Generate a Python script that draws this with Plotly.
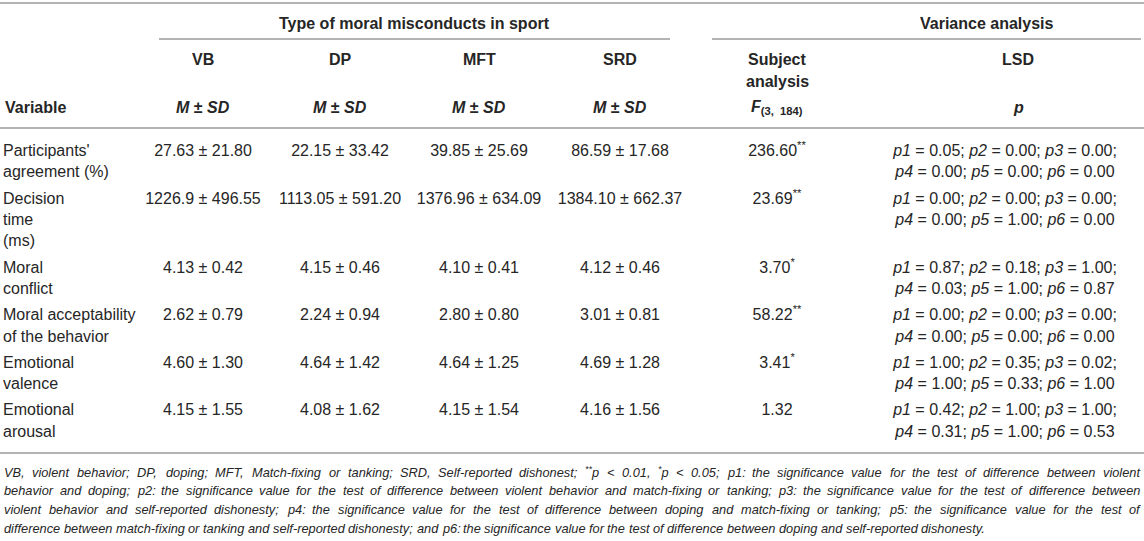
import plotly.graph_objects as go

# table content
variables = [
    ["Participants'", "agreement (%)"],
    ["Decision", "time", "(ms)"],
    ["Moral", "conflict"],
    ["Moral acceptability", "of the behavior"],
    ["Emotional", "valence"],
    ["Emotional", "arousal"],
]
misconducts = ["VB", "DP", "MFT", "SRD"]
vb = ["27.63 ± 21.80", "1226.9 ± 496.55", "4.13 ± 0.42", "2.62 ± 0.79", "4.60 ± 1.30", "4.15 ± 1.55"]
dp = ["22.15 ± 33.42", "1113.05 ± 591.20", "4.15 ± 0.46", "2.24 ± 0.94", "4.64 ± 1.42", "4.08 ± 1.62"]
mft = ["39.85 ± 25.69", "1376.96 ± 634.09", "4.10 ± 0.41", "2.80 ± 0.80", "4.64 ± 1.25", "4.15 ± 1.54"]
srd = ["86.59 ± 17.68", "1384.10 ± 662.37", "4.12 ± 0.46", "3.01 ± 0.81", "4.69 ± 1.28", "4.16 ± 1.56"]
f_values = ["236.60", "23.69", "3.70", "58.22", "3.41", "1.32"]
f_sig = ["**", "**", "*", "**", "*", ""]
p_values = [
    ["0.05", "0.00", "0.00", "0.00", "0.00", "0.00"],
    ["0.00", "0.00", "0.00", "0.00", "1.00", "0.00"],
    ["0.87", "0.18", "1.00", "0.03", "1.00", "0.87"],
    ["0.00", "0.00", "0.00", "0.00", "0.00", "0.00"],
    ["1.00", "0.35", "0.02", "1.00", "0.33", "1.00"],
    ["0.42", "1.00", "1.00", "0.31", "1.00", "0.53"],
]
footnote = [
    "VB, violent behavior; DP, doping; MFT, Match-fixing or tanking; SRD, Self-reported dishonest; **p < 0.01, *p < 0.05; p1: the significance value for the test of difference between violent",
    "behavior and doping; p2: the significance value for the test of difference between violent behavior and match-fixing or tanking; p3: the significance value for the test of difference between",
    "violent behavior and self-reported dishonesty; p4: the significance value for the test of difference between doping and match-fixing or tanking; p5: the significance value for the test of",
    "difference between match-fixing or tanking and self-reported dishonesty; and p6: the significance value for the test of difference between doping and self-reported dishonesty.",
]

W, H = 1144, 541
TXT = "#262626"
RULE = "#b3b3b3"
FONT = "Liberation Sans, Arial, sans-serif"
FS = 16
FN_FS = 12.8

col_x = [203, 340, 479, 620]
f_x = 777
lsd_x = 1018
p_x = 1005
line_h = 21.4
row_gap = 4.8

# Arial / Liberation Sans advance widths (1/1000 em), used to justify the footnote
ADV = {" ": 278, "*": 389, ",": 278, "-": 333, ".": 278, ":": 278, ";": 278, "<": 584}
ADV.update({d: 556 for d in "0123456789"})
ADV.update(dict(zip("abcdefghijklmnopqrstuvwxyz",
                    [556, 556, 500, 556, 556, 278, 556, 556, 222, 222, 500, 222, 833,
                     556, 556, 556, 556, 333, 500, 278, 556, 500, 722, 500, 500, 500])))
ADV.update(dict(zip("ABCDEFGHIJKLMNOPQRSTUVWXYZ",
                    [667, 667, 722, 722, 667, 611, 778, 722, 278, 500, 667, 556, 833,
                     722, 778, 667, 778, 722, 667, 611, 722, 667, 944, 667, 667, 611])))


def word_width(w, size):
    tot = 0
    for ch in w:
        f = 0.7 if ch == "*" else 1.0
        tot += ADV.get(ch, 556) * f
    return tot * size / 1000.0


def word_html(w):
    # leading asterisks are printed as superscripts
    n = len(w) - len(w.lstrip("*"))
    if n:
        return "<i><sup>%s</sup>%s</i>" % (w[:n], w[n:])
    return "<i>%s</i>" % w


# first-line y of each row
row_y = []
y = 152
for v in variables:
    row_y.append(y)
    y += len(v) * line_h + row_gap

fig = go.Figure()

# variable labels
lx, ly, lt = [], [], []
for i, v in enumerate(variables):
    for j, t in enumerate(v):
        lx.append(3)
        ly.append(row_y[i] + j * line_h)
        lt.append(t)
fig.add_trace(go.Scatter(x=lx, y=ly, text=lt, mode="text", textposition="middle right",
                         textfont=dict(family=FONT, size=FS, color=TXT)))

# means +- sd
for cx, vals in zip(col_x, [vb, dp, mft, srd]):
    fig.add_trace(go.Scatter(x=[cx] * len(vals), y=row_y, text=vals, mode="text",
                             textposition="middle center",
                             textfont=dict(family=FONT, size=FS, color=TXT)))

# F values
f_text = [v + ("<sup>%s</sup>" % s if s else "") for v, s in zip(f_values, f_sig)]
fig.add_trace(go.Scatter(x=[f_x] * len(f_text), y=row_y, text=f_text, mode="text",
                         textposition="middle center",
                         textfont=dict(family=FONT, size=FS, color=TXT)))

# LSD p values
px_, py_, pt_ = [], [], []
for i, ps in enumerate(p_values):
    l1 = "; ".join("<i>p%d</i> = %s" % (k + 1, ps[k]) for k in range(3)) + ";"
    l2 = "; ".join("<i>p%d</i> = %s" % (k + 1, ps[k]) for k in range(3, 6))
    px_ += [p_x, p_x]
    py_ += [row_y[i], row_y[i] + line_h]
    pt_ += [l1, l2]
fig.add_trace(go.Scatter(x=px_, y=py_, text=pt_, mode="text", textposition="middle center",
                         textfont=dict(family=FONT, size=FS, color=TXT)))


# header text
def head(x, y, t, anchor="center"):
    fig.add_annotation(x=x, y=y, text="<b>%s</b>" % t, showarrow=False, xanchor=anchor,
                       yanchor="middle", font=dict(family=FONT, size=FS, color=TXT))


head(414, 23, "Type of moral misconducts in sport")
head(987, 23, "Variance analysis")
for cx, m in zip(col_x, misconducts):
    head(cx, 59, m)
    head(cx, 107, "<i>M</i> ± <i>SD</i>")
head(f_x, 59, "Subject")
head(f_x, 81, "analysis")
head(f_x, 107, "<i>F</i><sub>(3,  184)</sub>")
head(lsd_x, 59, "LSD")
head(lsd_x, 107, "<i>p</i>")
head(3, 107, "Variable", "left")

# footnote, justified word by word (last line left aligned)
left, right = 3, 1139
for i, line in enumerate(footnote):
    words = line.split(" ")
    widths = [word_width(w, FN_FS) for w in words]
    if i < len(footnote) - 1:
        gap = (right - left - sum(widths)) / (len(words) - 1)
    else:
        gap = ADV[" "] * FN_FS / 1000.0
    xx = left
    for w, ww in zip(words, widths):
        fig.add_annotation(x=xx, y=472 + i * 18.8, text=word_html(w), showarrow=False,
                           xanchor="left", yanchor="middle", xshift=-1,
                           font=dict(family=FONT, size=FN_FS, color=TXT))
        xx += ww + gap

# rules
for x0, x1, yy in [(0, W, 3), (159, 670, 39), (712, 1141, 39), (0, W, 128), (0, W, 453)]:
    fig.add_shape(type="line", x0=x0, x1=x1, y0=yy, y1=yy, xref="x", yref="y",
                  line=dict(color=RULE, width=2))

fig.update_layout(
    width=W, height=H, margin=dict(l=0, r=0, t=0, b=0),
    paper_bgcolor="white", plot_bgcolor="white", showlegend=False, hovermode=False,
    xaxis=dict(range=[0, W], visible=False, fixedrange=True),
    yaxis=dict(range=[H, 0], visible=False, fixedrange=True),
)

fig.write_html("out.html", config={"displayModeBar": False},
               post_script="document.body.style.margin='0';document.body.style.overflow='hidden';")
